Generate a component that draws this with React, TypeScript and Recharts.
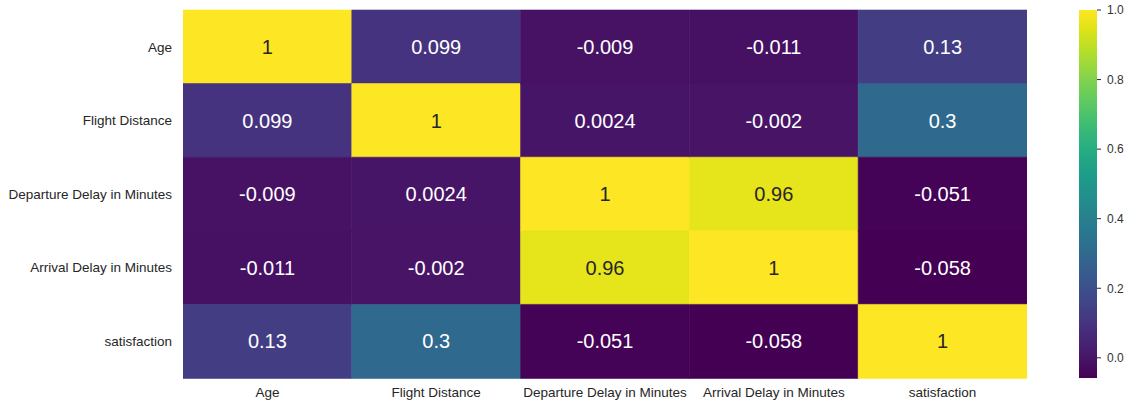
import React from 'react';
import { BarChart, Bar, XAxis, YAxis, Cell, LabelList } from 'recharts';

const labels = ['Age', 'Flight Distance', 'Departure Delay in Minutes', 'Arrival Delay in Minutes', 'satisfaction'];
const ageRow = [1, 0.099, -0.009, -0.011, 0.13];
const flightDistanceRow = [0.099, 1, 0.0024, -0.002, 0.3];
const departureDelayRow = [-0.009, 0.0024, 1, 0.96, -0.051];
const arrivalDelayRow = [-0.011, -0.002, 0.96, 1, -0.058];
const satisfactionRow = [0.13, 0.3, -0.051, -0.058, 1];
const colorbarTicks = [0, 0.2, 0.4, 0.6, 0.8, 1.0];
const vmin = -0.058;
const vmax = 1;

const rows = [ageRow, flightDistanceRow, departureDelayRow, arrivalDelayRow, satisfactionRow];

const VIRIDIS = [
  '#440154', '#471365', '#482475', '#463480', '#414487', '#3b528b', '#355f8d',
  '#2f6c8e', '#2a788e', '#25848e', '#21918c', '#1e9c89', '#22a884', '#2fb47c',
  '#44bf70', '#5ec962', '#7ad151', '#9bd93c', '#bddf26', '#dfe318', '#fde725',
];

function hexToRgb(h: string) {
  return [parseInt(h.slice(1, 3), 16), parseInt(h.slice(3, 5), 16), parseInt(h.slice(5, 7), 16)];
}

function viridis(v: number) {
  let t = (v - vmin) / (vmax - vmin);
  t = Math.max(0, Math.min(1, t));
  const pos = t * (VIRIDIS.length - 1);
  const i = Math.min(Math.floor(pos), VIRIDIS.length - 2);
  const f = pos - i;
  const a = hexToRgb(VIRIDIS[i]);
  const b = hexToRgb(VIRIDIS[i + 1]);
  const c = a.map((x, k) => Math.round(x + (b[k] - x) * f));
  return `rgb(${c[0]},${c[1]},${c[2]})`;
}

const table = rows.map((r, i) => {
  const o: any = { name: labels[i] };
  r.forEach((v, j) => {
    o['v' + j] = v;
    o['w' + j] = 1;
  });
  return o;
});

const colorbarData = [{ name: 'cb', range: [vmin, vmax] }];

const FONT = '"Liberation Sans", Arial, sans-serif';

const renderLabel = (props: any) => {
  const { x, y, width, height, value } = props;
  const num = Number(value);
  return (
    <text
      x={x + width / 2}
      y={y + height / 2}
      textAnchor="middle"
      dominantBaseline="central"
      fontSize={20}
      fontFamily={FONT}
      fill={num > 0.5 ? '#262626' : '#ffffff'}
    >
      {String(value)}
    </text>
  );
};

export default function App() {
  return (
    <div style={{ position: 'absolute', left: 0, top: 0, width: 1128, height: 403, background: '#ffffff', fontFamily: FONT }}>
      <div style={{ position: 'absolute', left: 0, top: 0 }}>
        <BarChart
          width={1128}
          height={403}
          data={table}
          layout="vertical"
          barCategoryGap={0}
          barGap={0}
          margin={{ top: 10, right: 101, bottom: 0, left: 0 }}
        >
          <YAxis
            type="category"
            dataKey="name"
            width={183}
            axisLine={false}
            tickLine={false}
            tickSize={0}
            tickMargin={11}
            interval={0}
            tick={{ fontSize: 13.5, fill: '#262626', fontFamily: FONT }}
          />
          <XAxis
            type="number"
            domain={[0, 5]}
            ticks={[0.5, 1.5, 2.5, 3.5, 4.5]}
            tickFormatter={(v: number) => labels[Math.floor(v)]}
            interval={0}
            height={25}
            axisLine={false}
            tickLine={false}
            tickSize={0}
            tickMargin={9}
            allowDataOverflow
            tick={{ fontSize: 13.5, fill: '#262626', fontFamily: FONT }}
          />
          {[0, 1, 2, 3, 4].map((j) => (
            <Bar key={j} dataKey={'w' + j} stackId="s" isAnimationActive={false}>
              {table.map((row, i) => (
                <Cell key={i} fill={viridis(row['v' + j])} stroke={viridis(row['v' + j])} strokeWidth={0.6} />
              ))}
              <LabelList dataKey={'v' + j} content={renderLabel} />
            </Bar>
          ))}
        </BarChart>
      </div>
      <div style={{ position: 'absolute', left: 1079, top: 0 }}>
        <BarChart
          width={60}
          height={403}
          data={colorbarData}
          barCategoryGap={0}
          margin={{ top: 10, right: 0, bottom: 25, left: 0 }}
        >
          <defs>
            <linearGradient id="cbGrad" x1="0" y1="1" x2="0" y2="0">
              {VIRIDIS.map((c, i) => (
                <stop key={i} offset={i / (VIRIDIS.length - 1)} stopColor={c} />
              ))}
            </linearGradient>
          </defs>
          <XAxis dataKey="name" type="category" hide />
          <YAxis
            orientation="right"
            type="number"
            domain={[vmin, vmax]}
            ticks={colorbarTicks}
            tickFormatter={(v: number) => v.toFixed(1)}
            width={42}
            axisLine={false}
            tickLine={{ stroke: '#262626' }}
            tickSize={4}
            tickMargin={6}
            interval={0}
            allowDataOverflow
            tick={{ fontSize: 12, fill: '#333333', fontFamily: FONT }}
          />
          <Bar dataKey="range" fill="url(#cbGrad)" isAnimationActive={false} />
        </BarChart>
      </div>
    </div>
  );
}
